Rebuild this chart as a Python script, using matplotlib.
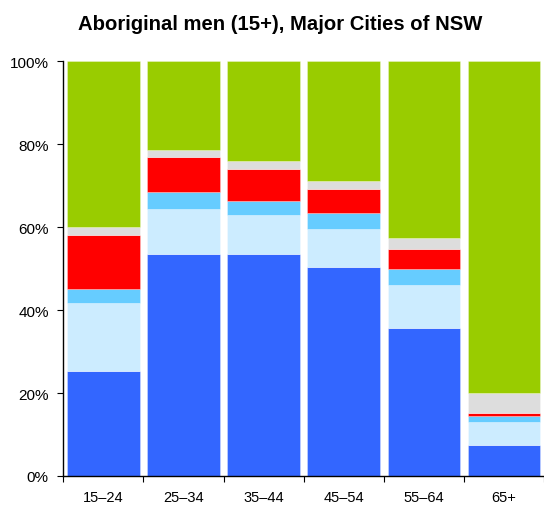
import matplotlib
matplotlib.use("Agg")
import matplotlib.pyplot as plt
import numpy as np

plt.rcParams['font.family'] = ['Liberation Sans', 'DejaVu Sans']

categories = ["15\u201324", "25\u201334", "35\u201344", "45\u201354", "55\u201364", "65+"]
# segment values (%) bottom to top
seg_blue = [25.2, 53.5, 53.5, 50.5, 35.8, 7.5]
seg_lightblue = [16.5, 10.9, 9.4, 9.0, 10.2, 5.6]
seg_sky = [3.4, 4.1, 3.4, 3.8, 3.8, 1.4]
seg_red = [13.1, 8.4, 7.8, 5.9, 5.0, 0.7]
seg_grey = [1.8, 1.8, 1.8, 1.9, 2.7, 4.8]
seg_green = [40.0, 21.3, 24.1, 28.9, 42.5, 80.0]

series = [seg_blue, seg_lightblue, seg_sky, seg_red, seg_grey, seg_green]
colors = ["#3366FF", "#CCECFF", "#66CCFF", "#FF0000", "#DDDDDD", "#99CC00"]
ytick_vals = [0, 20, 40, 60, 80, 100]
ytick_labels = ["0%", "20%", "40%", "60%", "80%", "100%"]

fig = plt.figure(figsize=(5.44, 5.06), dpi=100)
ax = fig.add_axes([63.3/544, 29/506, (544-63.3)/544, (477-62.3)/506])

x = np.arange(len(categories))
bottom = np.zeros(len(categories))
for vals, c in zip(series, colors):
    ax.bar(x, vals, bottom=bottom, width=0.905, color=c,
           edgecolor=(1, 1, 1, 0.35), linewidth=0.6)
    bottom += np.array(vals)

ax.set_xlim(-0.5, len(categories) - 0.5)
ax.set_ylim(0, 100)
ax.set_yticks(ytick_vals)
ax.set_yticklabels(ytick_labels, fontsize=11)
ax.set_xticks(np.arange(len(categories) + 1) - 0.5)
ax.set_xticklabels([])
ax.set_xticks(x, minor=True)
ax.set_xticklabels(categories, minor=True, fontsize=10.5)
ax.tick_params(axis='x', which='minor', length=0, pad=10)
ax.tick_params(axis='x', which='major', length=4.5, width=0.8, direction='out')
ax.tick_params(axis='y', length=4.5, width=0.8, direction='out', pad=6)
for s in ['top', 'right']:
    ax.spines[s].set_visible(False)
ax.spines['left'].set_linewidth(1.0)
ax.spines['bottom'].set_linewidth(1.0)

fig.text(280/544, 1 - 25/506, "Aboriginal men (15+), Major Cities of NSW",
         ha='center', va='center', fontsize=14.6, fontweight='bold')

fig.savefig("out.png", dpi=100)
